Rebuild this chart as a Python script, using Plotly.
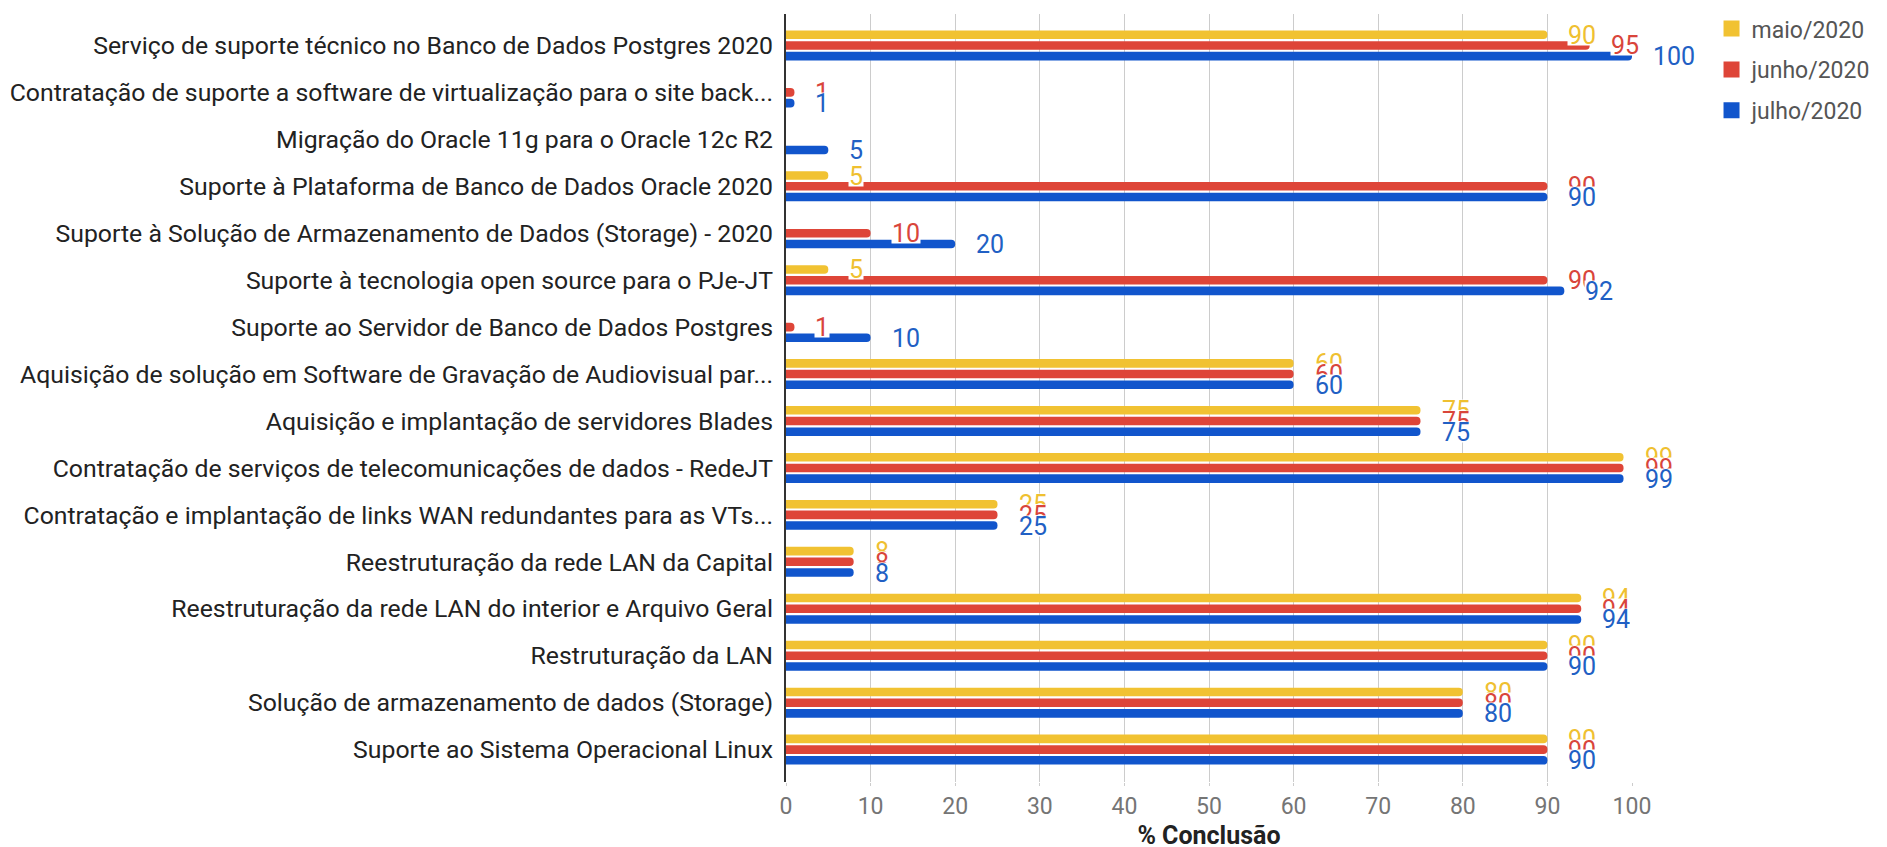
import plotly.graph_objects as go

categories = [
    "Serviço de suporte técnico no Banco de Dados Postgres 2020",
    "Contratação de suporte a software de virtualização para o site back...",
    "Migração do Oracle 11g para o Oracle 12c R2",
    "Suporte à Plataforma de Banco de Dados Oracle 2020",
    "Suporte à Solução de Armazenamento de Dados (Storage) - 2020",
    "Suporte à tecnologia open source para o PJe-JT",
    "Suporte ao Servidor de Banco de Dados Postgres",
    "Aquisição de solução em Software de Gravação de Audiovisual par...",
    "Aquisição e implantação de servidores Blades",
    "Contratação de serviços de telecomunicações de dados - RedeJT",
    "Contratação e implantação de links WAN redundantes para as VTs...",
    "Reestruturação da rede LAN da Capital",
    "Reestruturação da rede LAN do interior e Arquivo Geral",
    "Restruturação da LAN",
    "Solução de armazenamento de dados (Storage)",
    "Suporte ao Sistema Operacional Linux",
]

maio = [90, None, None, 5, None, 5, None, 60, 75, 99, 25, 8, 94, 90, 80, 90]
junho = [95, 1, None, 90, 10, 90, 1, 60, 75, 99, 25, 8, 94, 90, 80, 90]
julho = [100, 1, 5, 90, 20, 92, 10, 60, 75, 99, 25, 8, 94, 90, 80, 90]

series_names = ["maio/2020", "junho/2020", "julho/2020"]
series_values = [maio, junho, julho]
colors = ["#F1C232", "#DE4538", "#1155CC"]
label_colors = ["#EFC030", "#D9453B", "#2160C4"]
label_yshift = [10.7, 0, -10.7]

FONT = "Roboto"

fig = go.Figure()
for i, (name, vals) in enumerate(zip(series_names, series_values)):
    fig.add_trace(go.Bar(
        name=name,
        x=vals,
        y=categories,
        orientation="h",
        marker=dict(color=colors[i], cornerradius="50%", line=dict(width=0)),
        legendgroup=name,
        showlegend=False,
        hoverinfo="x+name",
    ))

# legend-only entries with larger square swatches
for i, name in enumerate(series_names):
    fig.add_trace(go.Scatter(
        name=name, x=[None], y=[None], mode="markers",
        marker=dict(symbol="square", size=22, color=colors[i], line=dict(width=0)),
        legendgroup=name, showlegend=True, hoverinfo="skip",
    ))

annotations = []
for i, vals in enumerate(series_values):
    for cat, v in zip(categories, vals):
        if v is None:
            continue
        annotations.append(dict(
            x=v, y=cat, xref="x", yref="y",
            text=str(v), showarrow=False,
            xanchor="left", yanchor="middle",
            xshift=20, yshift=label_yshift[i],
            bgcolor="white", borderpad=0, height=20, valign="middle",
            font=dict(family=FONT, size=25, color=label_colors[i]),
        ))

# The page body has an 8px default margin, so the figure is offset by 8px.
fig.update_layout(
    width=1879, height=845,
    margin=dict(l=778, r=255, t=6, b=71, pad=0, autoexpand=False),
    paper_bgcolor="white", plot_bgcolor="white",
    barmode="group", bargap=0.316, bargroupgap=0.2,
    font=dict(family=FONT, color="#222222"),
    showlegend=True,
    legend=dict(
        x=1.094, y=1.009, xanchor="left", yanchor="top",
        font=dict(family=FONT, size=23, color="#555555"),
        tracegroupgap=8, traceorder="grouped", itemsizing="trace",
        bgcolor="rgba(0,0,0,0)",
    ),
    annotations=annotations,
    xaxis=dict(
        range=[0, 100], dtick=10, tick0=0,
        showgrid=True, gridcolor="#CCCCCC", gridwidth=1,
        zeroline=False, showline=False,
        ticks="outside", ticklen=3, tickcolor="#CCCCCC",
        tickfont=dict(family=FONT, size=23, color="#757575"),
        title=dict(text="<b>% Conclusão</b>", standoff=7,
                   font=dict(family=FONT, size=25, color="#222222")),
        fixedrange=True,
    ),
    yaxis=dict(
        type="category",
        range=[15.69, -0.67],
        showline=True, linecolor="#333333", linewidth=2,
        showgrid=False, zeroline=False, ticks="",
        ticklabelstandoff=6,
        tickfont=dict(family=FONT, size=24.8, color="#222222"),
        fixedrange=True,
    ),
)

fig.write_html("out.html")
